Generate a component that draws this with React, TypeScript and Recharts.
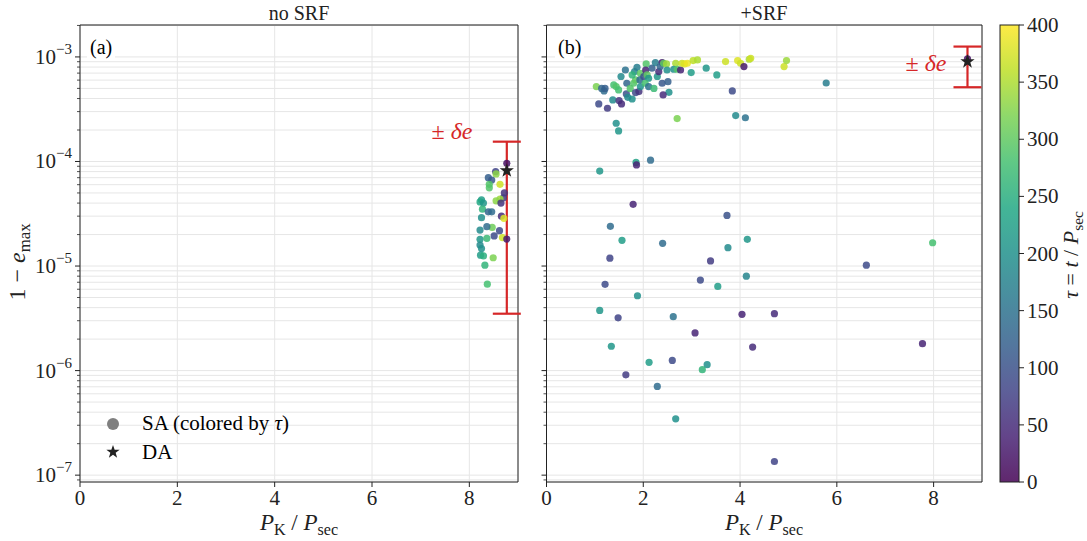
import React from 'react';
import { ScatterChart, Scatter, XAxis, YAxis, CartesianGrid, ErrorBar, ReferenceArea } from 'recharts';

const FONT = '"Liberation Serif", "DejaVu Serif", serif';

// [P_K/P_sec, 1 - e_max, tau]
const noSrfPoints: [number, number, number][] = [
  [8.77, 9.6e-5, 20], [8.54, 8.0e-5, 80], [8.55, 7.6e-5, 330], [8.39, 7.0e-5, 120],
  [8.46, 6.65e-5, 110], [8.41, 6.05e-5, 290], [8.41, 5.6e-5, 290], [8.63, 6.05e-5, 370],
  [8.72, 5.0e-5, 60], [8.7, 4.5e-5, 70], [8.63, 4.37e-5, 340], [8.55, 4.2e-5, 330],
  [8.65, 4.0e-5, 60], [8.25, 4.3e-5, 220], [8.22, 4.1e-5, 240], [8.29, 4.0e-5, 210],
  [8.27, 3.5e-5, 260], [8.39, 3.3e-5, 130], [8.46, 3.3e-5, 140], [8.25, 2.9e-5, 200],
  [8.66, 3.0e-5, 50], [8.71, 2.86e-5, 380], [8.47, 2.34e-5, 310], [8.36, 2.38e-5, 140],
  [8.22, 2.21e-5, 190], [8.62, 2.18e-5, 90], [8.51, 1.94e-5, 90], [8.68, 1.87e-5, 370],
  [8.77, 1.81e-5, 30], [8.22, 1.8e-5, 210], [8.36, 1.84e-5, 270], [8.22, 1.59e-5, 190],
  [8.25, 1.47e-5, 200], [8.23, 1.27e-5, 220], [8.29, 1.25e-5, 250], [8.49, 1.2e-5, 320],
  [8.32, 1.02e-5, 260], [8.37, 6.7e-6, 280],
];

const srfPoints: [number, number, number][] = [
  [1.03, 5.2e-4, 320], [1.14, 5.0e-4, 130], [1.19, 4.73e-4, 140], [1.21, 5.0e-4, 120],
  [1.08, 3.55e-4, 90], [1.26, 3.23e-4, 70], [1.37, 3.88e-4, 190], [1.5, 3.82e-4, 60],
  [1.55, 3.55e-4, 50], [1.44, 2.32e-4, 200], [1.49, 1.96e-4, 210], [1.39, 5.4e-4, 280],
  [1.44, 5.2e-4, 290], [1.49, 4.83e-4, 280], [1.54, 6.5e-4, 190], [1.63, 7.5e-4, 150],
  [1.66, 5.6e-4, 130], [1.65, 4.43e-4, 100], [1.68, 4.11e-4, 190], [1.77, 3.96e-4, 200],
  [1.73, 5.0e-4, 290], [1.8, 5.6e-4, 290], [1.84, 6.03e-4, 300], [1.82, 7.24e-4, 180],
  [1.87, 7.96e-4, 170], [1.77, 6.73e-4, 260], [1.94, 6.98e-4, 300], [1.84, 4.56e-4, 90],
  [1.91, 4.66e-4, 60], [1.94, 5.2e-4, 200], [1.93, 6.03e-4, 140], [2.01, 6.5e-4, 100],
  [2.06, 8.57e-4, 290], [2.05, 7.5e-4, 40], [2.08, 6.73e-4, 300], [2.11, 6.25e-4, 210],
  [2.04, 5.6e-4, 280], [2.11, 5.2e-4, 150], [2.22, 5.0e-4, 270], [2.29, 6.5e-4, 210],
  [2.18, 7.8e-4, 120], [2.25, 8.83e-4, 170], [2.32, 7.24e-4, 50], [2.39, 8.83e-4, 30],
  [2.35, 8.08e-4, 130], [2.42, 8.7e-4, 300], [2.48, 8.57e-4, 340], [2.49, 7.5e-4, 200],
  [2.39, 5.6e-4, 110], [2.51, 5.8e-4, 120], [2.53, 4.59e-4, 200], [2.41, 4.33e-4, 50],
  [2.67, 8.7e-4, 350], [2.63, 7.62e-4, 200], [2.7, 7.62e-4, 290], [2.77, 7.5e-4, 40],
  [2.8, 8.7e-4, 370], [2.85, 8.57e-4, 380], [2.91, 8.7e-4, 390], [2.7, 2.57e-4, 320],
  [2.99, 7.08e-4, 220], [3.03, 9.22e-4, 360], [3.12, 9.36e-4, 350], [3.3, 7.8e-4, 210],
  [3.52, 6.73e-4, 220], [3.7, 9.02e-4, 370], [3.84, 4.73e-4, 90], [3.91, 2.75e-4, 190],
  [3.95, 9.22e-4, 380], [4.01, 8.7e-4, 370], [4.08, 8.08e-4, 30], [4.11, 2.62e-4, 150],
  [4.19, 9.5e-4, 350], [4.22, 9.7e-4, 370], [4.91, 8.08e-4, 370], [4.96, 9.22e-4, 340],
  [5.78, 5.63e-4, 170], [8.7, 9.6e-4, 20],
  [1.85, 9.8e-5, 230], [1.86, 9.27e-5, 40], [2.15, 1.03e-4, 140], [1.1, 8.1e-5, 210],
  [1.79, 3.89e-5, 40], [3.73, 3.05e-5, 100], [1.32, 2.4e-5, 140], [1.56, 1.76e-5, 220],
  [2.4, 1.65e-5, 140], [4.15, 1.8e-5, 210], [7.98, 1.67e-5, 280], [3.75, 1.5e-5, 190],
  [1.31, 1.19e-5, 80], [3.39, 1.12e-5, 70], [6.61, 1.02e-5, 90], [4.13, 8.0e-6, 180],
  [3.18, 7.34e-6, 90], [1.21, 6.68e-6, 90], [3.54, 6.39e-6, 220], [1.88, 5.2e-6, 200],
  [1.1, 3.76e-6, 210], [1.48, 3.2e-6, 80], [2.62, 3.28e-6, 150], [4.04, 3.45e-6, 40],
  [4.71, 3.5e-6, 50], [3.07, 2.29e-6, 40], [1.34, 1.71e-6, 210], [4.26, 1.68e-6, 50],
  [7.77, 1.81e-6, 40], [2.12, 1.2e-6, 220], [2.6, 1.25e-6, 90], [3.32, 1.14e-6, 200],
  [3.22, 1.02e-6, 260], [1.64, 9.12e-7, 70], [2.29, 7.05e-7, 140], [2.67, 3.46e-7, 200],
  [4.71, 1.35e-7, 80],
];

// DA result with the +/- delta e range [below, above]
const daNoSrf = { x: 8.77, y: 8.17e-5, err: [7.82e-5, 7.3e-5] };
const daSrf = { x: 8.7, y: 9.02e-4, err: [3.89e-4, 3.54e-4] };

const X_TICKS = [0, 2, 4, 6, 8];
const Y_MAJOR = [1e-7, 1e-6, 1e-5, 1e-4, 1e-3];
const Y_MIN = 8.6e-8;
const Y_MAX = 2.02e-3;
const TAU_TICKS = [0, 50, 100, 150, 200, 250, 300, 350, 400];
const TAU_MAX = 400;

const Y_TICKS: number[] = [];
for (let e = -8; e <= -3; e++) {
  for (let m = 1; m <= 9; m++) {
    const v = parseFloat((m * Math.pow(10, e)).toPrecision(2));
    if (v >= Y_MIN && v <= Y_MAX) Y_TICKS.push(v);
  }
}

const VIRIDIS = ['#440154', '#482475', '#414487', '#355f8d', '#2a788e', '#21918c',
  '#22a884', '#44bf70', '#7ad151', '#bddf26', '#fde725'];

function viridis(t: number) {
  const c = Math.max(0, Math.min(1, t)) * 10;
  const i = Math.min(9, Math.floor(c));
  const f = c - i;
  const a = VIRIDIS[i], b = VIRIDIS[i + 1];
  const ch = (s: string, k: number) => parseInt(s.slice(1 + k * 2, 3 + k * 2), 16);
  const mix = [0, 1, 2].map((k) => Math.round(ch(a, k) + (ch(b, k) - ch(a, k)) * f));
  return `rgb(${mix.join(',')})`;
}

const toRows = (pts: [number, number, number][]) => pts.map(([x, y, tau]) => ({ x, y, tau }));

const LogTick = (props: any) => {
  const { x, y, payload, showLabel } = props;
  const v = payload.value;
  const major = Y_MAJOR.some((m) => Math.abs(m - v) / m < 1e-6);
  const e = Math.round(Math.log10(v));
  return (
    <g>
      <line x1={x} x2={x - (major ? 5 : 3)} y1={y} y2={y} stroke="#222" strokeWidth={major ? 1 : 0.8} />
      {major && showLabel && (
        <text x={x - 8} y={y + 7} textAnchor="end" fontSize={21} fill="#222">
          10<tspan dy={-10} fontSize={15}>{'\u2212' + -e}</tspan>
        </text>
      )}
    </g>
  );
};

const starPath = (cx: number, cy: number, ro: number, ri: number) => {
  const pts: string[] = [];
  for (let k = 0; k < 10; k++) {
    const r = k % 2 === 0 ? ro : ri;
    const a = -Math.PI / 2 + (k * Math.PI) / 5;
    pts.push(`${(cx + r * Math.cos(a)).toFixed(2)},${(cy + r * Math.sin(a)).toFixed(2)}`);
  }
  return pts.join(' ');
};

const Dot = (p: any) => (
  <circle cx={p.cx} cy={p.cy} r={3.6} fill={viridis(p.payload.tau / TAU_MAX)} fillOpacity={0.85} />
);
const Star = (p: any) => <polygon points={starPath(p.cx, p.cy, 7.5, 3)} fill="#222" />;
const Empty = () => <g />;

const Panel = ({ points, da, showLabels, width, yWidth, right }: any) => (
  <ScatterChart width={width} height={541} margin={{ top: 25, right, bottom: 29, left: 0 }}>
    <CartesianGrid stroke="#e6e6e6" strokeWidth={1} />
    <XAxis type="number" dataKey="x" domain={[0, 9]} ticks={X_TICKS} interval={0} allowDataOverflow
      axisLine={false} tickSize={5} tickMargin={3} tickLine={{ stroke: '#222' }}
      tick={{ fontSize: 21, fill: '#222' }} height={30} />
    <YAxis type="number" dataKey="y" scale="log" domain={[Y_MIN, Y_MAX]} ticks={Y_TICKS} interval={0}
      allowDataOverflow axisLine={false} tickLine={false} tickSize={0} tickMargin={0} width={yWidth}
      tick={(p: any) => <LogTick {...p} showLabel={showLabels} />} />
    <Scatter data={toRows(points)} shape={Dot} isAnimationActive={false} />
    <Scatter data={[da]} shape={Empty} isAnimationActive={false}>
      <ErrorBar dataKey="err" direction="y" width={14} strokeWidth={2.2} stroke="#d62728" />
    </Scatter>
    <Scatter data={[da]} shape={Star} isAnimationActive={false} />
    <ReferenceArea x1={0} x2={9} y1={Y_MIN} y2={Y_MAX} fill="none" stroke="#222" strokeWidth={1} ifOverflow="visible" />
  </ScatterChart>
);

const Txt = ({ x, y, size = 20, color = '#222', rotate = 0, children }: any) => (
  <div style={{
    position: 'absolute', left: x, top: y, fontSize: size, color, lineHeight: 1, whiteSpace: 'nowrap',
    transform: `translate(-50%, -50%) rotate(${rotate}deg)`,
  }}>{children}</div>
);

const Sub = ({ children }: any) => (
  <span style={{ fontSize: '0.7em', position: 'relative', top: '0.3em' }}>{children}</span>
);

const CB = { x: 1000, y: 25, w: 19, h: 457 };

export default function App() {
  return (
    <div style={{ position: 'absolute', left: 0, top: 0, width: 1087, height: 541, background: '#fff', fontFamily: FONT, overflow: 'hidden' }}>
      <div style={{ position: 'absolute', left: 0, top: 0 }}>
        <Panel points={noSrfPoints} da={daNoSrf} showLabels width={530} yWidth={80} right={12} />
      </div>
      <div style={{ position: 'absolute', left: 536, top: 0 }}>
        <Panel points={srfPoints} da={daSrf} showLabels={false} width={460} yWidth={10.5} right={14} />
      </div>

      <svg width={1087} height={541} style={{ position: 'absolute', left: 0, top: 0, pointerEvents: 'none' }}>
        <defs>
          <linearGradient id="vir" x1="0" y1="1" x2="0" y2="0">
            {VIRIDIS.map((c, i) => <stop key={i} offset={i / 10} stopColor={c} />)}
          </linearGradient>
        </defs>
        <rect x={CB.x} y={CB.y} width={CB.w} height={CB.h} fill="url(#vir)" fillOpacity={0.85} />
        <rect x={CB.x} y={CB.y} width={CB.w} height={CB.h} fill="none" stroke="#222" strokeWidth={1} />
        {TAU_TICKS.map((t) => {
          const ty = CB.y + CB.h - (t / TAU_MAX) * CB.h;
          return (
            <g key={t}>
              <line x1={CB.x + CB.w} x2={CB.x + CB.w + 5} y1={ty} y2={ty} stroke="#222" />
              <text x={CB.x + CB.w + 8} y={ty + 7} fontSize={21} fill="#222">{t}</text>
            </g>
          );
        })}
        <circle cx={113} cy={424} r={6} fill="#7f7f7f" />
        <polygon points={starPath(113, 452, 7, 2.8)} fill="#222" />
      </svg>

      <Txt x={299} y={13} size={20}>no SRF</Txt>
      <Txt x={764} y={13} size={20}>+SRF</Txt>
      <div style={{ position: 'absolute', left: 87, top: 36, padding: '1px 3px', background: '#fff', fontSize: 20, lineHeight: 1 }}>(a)</div>
      <div style={{ position: 'absolute', left: 555, top: 36, padding: '1px 3px', background: '#fff', fontSize: 20, lineHeight: 1 }}>(b)</div>

      <Txt x={452} y={131} size={24} color="#d62728">± <i>δe</i></Txt>
      <Txt x={926} y={63} size={24} color="#d62728">± <i>δe</i></Txt>

      <div style={{ position: 'absolute', left: 142, top: 413, fontSize: 21, lineHeight: 1 }}>SA (colored by <i>τ</i>)</div>
      <div style={{ position: 'absolute', left: 142, top: 442, fontSize: 21, lineHeight: 1 }}>DA</div>

      <Txt x={17} y={262} size={24} rotate={-90}>1 − <i>e</i><Sub>max</Sub></Txt>
      <Txt x={299} y={522} size={23}><i>P</i><Sub>K</Sub> / <i>P</i><Sub>sec</Sub></Txt>
      <Txt x={764} y={522} size={23}><i>P</i><Sub>K</Sub> / <i>P</i><Sub>sec</Sub></Txt>
      <Txt x={1071} y={255} size={22} rotate={-90}><i>τ</i> = <i>t</i> / <i>P</i><Sub>sec</Sub></Txt>
    </div>
  );
}
